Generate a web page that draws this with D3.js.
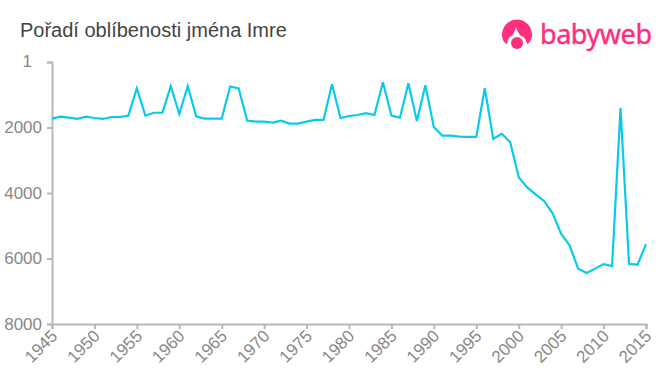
<!DOCTYPE html>
<html>
<head>
<meta charset="utf-8">
<script src="https://cdn.jsdelivr.net/npm/d3@7"></script>
<style>
  html, body { margin: 0; padding: 0; background: #fff; }
  svg { display: block; font-family: "Liberation Sans", Arial, sans-serif; }
</style>
</head>
<body>
<div id="chart"></div>
<script>
// Values
const years = d3.range(1945, 2016);
const ranks = [
  1730, 1670, 1700, 1740, 1670, 1710, 1740, 1680, 1680, 1640,
  800, 1640, 1550, 1550, 740, 1590, 740, 1670, 1730, 1730,
  1730, 750, 810, 1790, 1820, 1820, 1850, 1790, 1880, 1880,
  1820, 1770, 1770, 680, 1710, 1650, 1620, 1560, 1620, 620,
  1640, 1700, 650, 1800, 710, 1990, 2250, 2250, 2280, 2290,
  2290, 800, 2350, 2190, 2450, 3520, 3830, 4040, 4250, 4620,
  5250, 5600, 6310, 6440, 6310, 6170, 6230, 1410, 6160, 6190,
  5560
];
const yTicks = [1, 2000, 4000, 6000, 8000];
const xTicks = d3.range(1945, 2016, 5);
const title = "Pořadí oblíbenosti jména Imre";

const width = 660, height = 375;
const margin = {top: 62, right: 14, bottom: 51, left: 52};

const svg = d3.select("#chart").append("svg")
  .attr("width", width)
  .attr("height", height);

const x = d3.scaleLinear()
  .domain([1945, 2015])
  .range([margin.left, width - margin.right]);

const y = d3.scaleLinear()
  .domain([1, 8000])
  .range([margin.top, height - margin.bottom]);

// title
svg.append("text")
  .attr("x", 20)
  .attr("y", 37)
  .attr("font-size", 20)
  .attr("fill", "#444")
  .text(title);

// Y axis
const yAxis = svg.append("g")
  .attr("transform", "translate(" + margin.left + ",0)")
  .call(d3.axisLeft(y).tickValues(yTicks).tickFormat(d3.format("d")).tickSize(5).tickPadding(5));

// X axis
const xAxis = svg.append("g")
  .attr("transform", "translate(0," + (height - margin.bottom) + ")")
  .call(d3.axisBottom(x).tickValues(xTicks).tickFormat(d3.format("d")).tickSize(5));

[yAxis, xAxis].forEach(function(a) {
  a.selectAll("path, line").attr("stroke", "#b8b8b8").attr("stroke-width", 2);
  a.selectAll("text").attr("fill", "#888").attr("font-size", 17)
    .attr("font-family", "'Liberation Sans', Arial, sans-serif");
});

// the "1" sits further left than the other labels
yAxis.selectAll("text").filter(function(d) { return d === 1; })
  .attr("x", -20)
  .attr("dy", "0.25em");

xAxis.selectAll("text")
  .attr("text-anchor", "end")
  .attr("dx", 0)
  .attr("dy", 0)
  .attr("y", 0)
  .attr("x", 0)
  .attr("transform", "translate(6,13) rotate(-45)");

// the line
svg.append("path")
  .datum(ranks)
  .attr("fill", "none")
  .attr("stroke", "#08cbea")
  .attr("stroke-width", 2.2)
  .attr("d", d3.line()
    .x(function(d, i) { return x(years[i]); })
    .y(function(d) { return y(d); }));

// logo
const logo = svg.append("g").attr("transform", "translate(517,33)").attr("fill", "#ff2e7e");
logo.append("path")
  .attr("d", "M-15,2 A15,15.5 0 1 1 15,2 C15,6 13,10 10,11 C9,7 8,4 4,3 C2,1 0,-2 -1,-6 C-2,-2 -4,1 -5,3 C-9,4 -9,7 -10,11 C-13,10 -15,6 -15,2 Z");
logo.append("circle").attr("cx", 0).attr("cy", 10).attr("r", 6);
svg.append("text")
  .attr("x", 540)
  .attr("y", 44)
  .attr("font-family", "'Noto Sans', sans-serif")
  .attr("font-size", 27)
  .attr("fill", "#ff2e7e")
  .attr("stroke", "#ff2e7e")
  .attr("stroke-width", 0.4)
  .attr("textLength", 112)
  .text("babyweb");
</script>
</body>
</html>
